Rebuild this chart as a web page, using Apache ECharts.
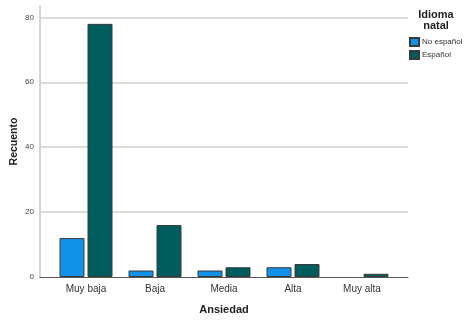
<!DOCTYPE html>
<html><head><meta charset="utf-8">
<script src="https://cdn.jsdelivr.net/npm/echarts@6/dist/echarts.min.js"></script>
<style>html,body{margin:0;padding:0;background:#fff}#c{width:464px;height:320px}</style>
</head><body><div id="c"></div>
<script>
const categories = ['Muy baja', 'Baja', 'Media', 'Alta', 'Muy alta'];
const noEspanol = [12, 2, 2, 3, 0];
const espanol = [78, 16, 3, 4, 1];
const yTicks = [0, 20, 40, 60, 80];

const font = 'Liberation Sans, Arial, sans-serif';
const hideZero = arr => arr.map(v => v === 0 ? '-' : v);
const chart = echarts.init(document.getElementById('c'), null, {renderer: 'canvas'});
chart.setOption({
  animation: false,
  textStyle: {fontFamily: font},
  title: {
    text: 'Idioma\nnatal', left: 436, top: 10, padding: 0, textAlign: 'center',
    textStyle: {fontSize: 11, fontWeight: 'bold', color: '#222', lineHeight: 10.5, fontFamily: font}
  },
  legend: {
    orient: 'vertical', left: 409, top: 37, width: 80, padding: 0, itemWidth: 9, itemHeight: 8, itemGap: 3,
    icon: 'rect',
    textStyle: {fontSize: 8, color: '#333', padding: [0, 0, 0, -2], fontFamily: font, overflow: 'none'},
    data: ['No español', 'Español']
  },
  grid: [
    {left: 40, right: 56, top: 6, bottom: 43, outerBoundsMode: 'none', containLabel: false},
    {left: 51.5, right: 67.5, top: 6, bottom: 43, outerBoundsMode: 'none', containLabel: false}
  ],
  xAxis: [
    {gridIndex: 0, type: 'value', min: 0, max: 1, axisLine: {show: true, lineStyle: {color: '#555', width: 1}},
     axisTick: {show: false}, axisLabel: {show: false}, splitLine: {show: false},
     name: 'Ansiedad', nameLocation: 'middle', nameGap: 27, nameMoveOverlap: false,
     nameTextStyle: {fontSize: 11, fontWeight: 'bold', color: '#222', fontFamily: font}},
    {gridIndex: 1, type: 'category', data: categories, axisLine: {show: false}, axisTick: {show: false},
     axisLabel: {fontSize: 10, color: '#333', margin: 7, fontFamily: font}}
  ],
  yAxis: [
    {gridIndex: 0, type: 'value', min: 0, max: 83.5, interval: 20,
     axisLine: {show: true, lineStyle: {color: '#c8c8c8', width: 1.5}}, axisTick: {show: false},
     axisLabel: {fontSize: 8, color: '#444', margin: 6, showMaxLabel: false, fontFamily: font,
       formatter: v => yTicks.includes(v) ? String(v) : ''},
     splitLine: {show: true, showMaxLine: false, showMinLine: false, lineStyle: {color: '#d0d0d0', width: 1.5}},
     name: 'Recuento', nameLocation: 'middle', nameGap: 20, nameRotate: 90, nameMoveOverlap: false,
     nameTextStyle: {fontSize: 10.5, fontWeight: 'bold', color: '#222', fontFamily: font}},
    {gridIndex: 1, type: 'value', min: 0, max: 83.5, show: false, splitLine: {show: false}}
  ],
  series: [
    {name: 'No español', type: 'bar', xAxisIndex: 1, yAxisIndex: 1, data: hideZero(noEspanol),
     barWidth: 25, barGap: '12%',
     itemStyle: {color: '#1192e8', borderColor: '#3a3a3a', borderWidth: 1}},
    {name: 'Español', type: 'bar', xAxisIndex: 1, yAxisIndex: 1, data: hideZero(espanol),
     barWidth: 25, barGap: '12%',
     itemStyle: {color: '#005d5d', borderColor: '#3a3a3a', borderWidth: 1}}
  ]
});
</script></body></html>
